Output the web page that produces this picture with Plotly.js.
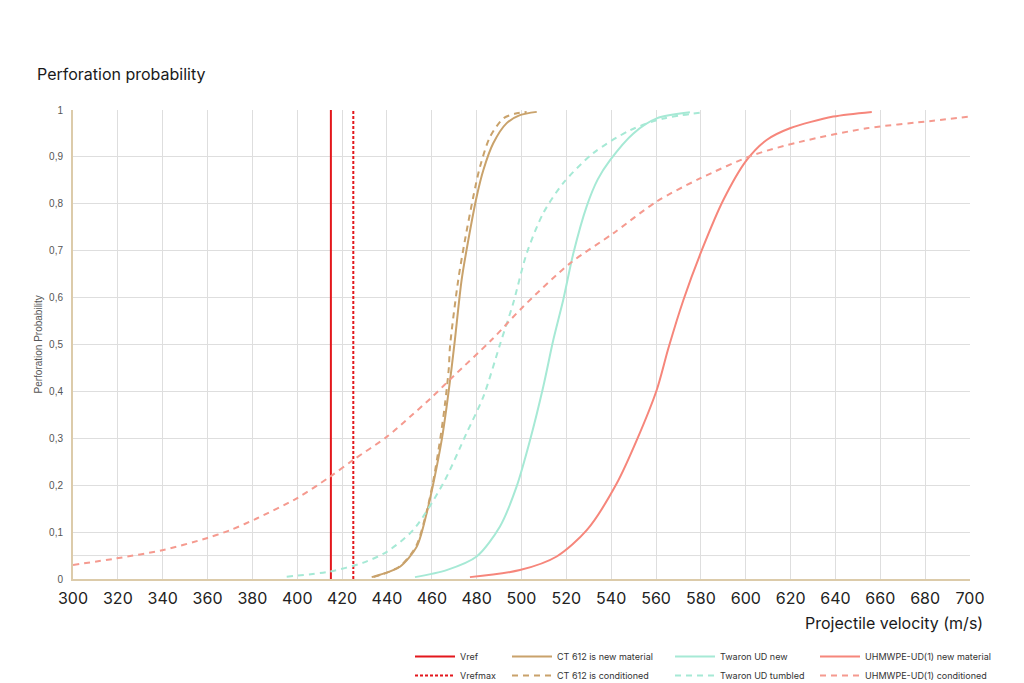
<!DOCTYPE html>
<html>
<head>
<meta charset="utf-8">
<script src="https://cdn.plot.ly/plotly-3.0.1.min.js"></script>
<style>
  html, body { margin: 0; padding: 0; background: #fff; }
  #chart { width: 1024px; height: 683px; }
</style>
</head>
<body>
<div id="chart"></div>
<script>
// reference velocities (m/s)
const vref = 415;
const vrefmax = 425;

// CT 612 is new material
const ctNewV = [433.2, 436.9, 445.8, 453.3, 457.7, 460.7, 464.4, 466.6, 468.9, 470.3, 473.3, 476.3, 480.0, 483.0, 487.4, 493.4, 499.3, 506.8];
const ctNewP = [0.004, 0.009, 0.026, 0.069, 0.14, 0.204, 0.296, 0.367, 0.453, 0.51, 0.638, 0.723, 0.815, 0.872, 0.929, 0.972, 0.989, 0.996];

// CT 612 is conditioned
const ctCondV = [434, 438, 446, 453, 457.5, 460.5, 463.8, 465.8, 467.6, 468.1, 471.8, 474.8, 478.5, 481.5, 486, 491.9, 497, 502.3];
const ctCondP = [0.004, 0.01, 0.028, 0.07, 0.14, 0.205, 0.3, 0.37, 0.45, 0.495, 0.638, 0.723, 0.815, 0.879, 0.943, 0.982, 0.992, 0.996];

// Twaron UD new
const twNewV = [452.5, 466.6, 480, 490.4, 497.8, 503.8, 509.7, 514.2, 518.6, 523.1, 529.1, 534, 539.5, 549.9, 560.3, 575.1];
const twNewP = [0.004, 0.019, 0.048, 0.112, 0.197, 0.296, 0.41, 0.51, 0.595, 0.694, 0.795, 0.852, 0.893, 0.95, 0.982, 0.995];

// Twaron UD tumbled
const twTumbV = [395.3, 414.6, 429.5, 439.9, 451.8, 465.1, 475.5, 483, 490.4, 496.3, 502.3, 509.7, 518.6, 532, 548.5, 563.3, 581];
const twTumbP = [0.005, 0.016, 0.035, 0.058, 0.105, 0.204, 0.311, 0.389, 0.5, 0.588, 0.694, 0.78, 0.844, 0.908, 0.957, 0.982, 0.995];

// UHMWPE-UD(1) new material
const uhNewV = [477, 499.3, 515.7, 529.1, 542.5, 551.4, 560.3, 565.5, 572.2, 580.4, 590, 600.4, 609.3, 619.7, 639, 656.2];
const uhNewP = [0.004, 0.019, 0.048, 0.104, 0.204, 0.296, 0.403, 0.492, 0.595, 0.701, 0.808, 0.893, 0.936, 0.961, 0.986, 0.996];

// UHMWPE-UD(1) conditioned
const uhCondV = [300, 319.5, 340.3, 359.6, 370, 381.9, 399.8, 414.6, 425, 439.9, 450.3, 459.2, 470, 486.7, 500.8, 521.6, 540.9, 560.3, 579.6, 603.4, 624.2, 653.9, 683.6, 700];
const uhCondP = [0.03, 0.044, 0.062, 0.087, 0.104, 0.129, 0.172, 0.218, 0.254, 0.303, 0.346, 0.384, 0.434, 0.51, 0.581, 0.673, 0.737, 0.805, 0.854, 0.904, 0.932, 0.961, 0.977, 0.986];

const xTicks = [300, 320, 340, 360, 380, 400, 420, 440, 460, 480, 500, 520, 540, 560, 580, 600, 620, 640, 660, 680, 700];

const RED = '#e3171c';
const TAN = '#c9a26b';
const MINT = '#a6e9d5';
const SALMON = '#f6867b';
const SALMON_D = '#f59a8f';

const curve = (x, y, name, color, dash, legend) => ({
  x: x, y: y, name: name, type: 'scatter', mode: 'lines',
  line: { color: color, width: 2, dash: dash, shape: 'spline', smoothing: 0.8 },
  legend: legend, legendgroup: name, hoverinfo: 'skip'
});

const traces = [
  { x: [vref, vref], y: [0, 1], name: 'Vref', type: 'scatter', mode: 'lines',
    line: { color: RED, width: 2 }, legend: 'legend', legendgroup: 'Vref' },
  { x: [vrefmax, vrefmax], y: [0, 1], name: 'Vrefmax', type: 'scatter', mode: 'lines',
    line: { color: RED, width: 2, dash: '3px,2px' }, legend: 'legend', legendgroup: 'Vrefmax' },
  curve(ctNewV, ctNewP, 'CT 612 is new material', TAN, 'solid', 'legend2'),
  curve(ctCondV, ctCondP, 'CT 612 is conditioned', TAN, '6px,5px', 'legend2'),
  curve(twNewV, twNewP, 'Twaron UD new', MINT, 'solid', 'legend3'),
  curve(twTumbV, twTumbP, 'Twaron UD tumbled', MINT, '6px,5px', 'legend3'),
  curve(uhNewV, uhNewP, 'UHMWPE-UD(1) new material', SALMON, 'solid', 'legend4'),
  curve(uhCondV, uhCondP, 'UHMWPE-UD(1) conditioned', SALMON_D, '6px,5px', 'legend4')
];

const legendBase = (x) => ({
  x: x, xanchor: 'left', xref: 'container',
  y: 1 - 642 / 683, yanchor: 'top', yref: 'container',
  orientation: 'v', bgcolor: 'rgba(0,0,0,0)', tracegroupgap: 0,
  itemwidth: 40,
  font: { family: 'Inter, sans-serif', size: 9, color: '#333' }
});

const layout = {
  width: 1024,
  height: 683,
  margin: { l: 73, r: 54, t: 110, b: 104, autoexpand: false },
  paper_bgcolor: '#ffffff',
  plot_bgcolor: '#ffffff',
  separators: ', ',
  font: { family: 'Inter, sans-serif', color: '#222' },
  title: {
    text: 'Perforation probability',
    x: 37 / 1024, xanchor: 'left', xref: 'container',
    y: 1 - 74 / 683, yanchor: 'middle', yref: 'container',
    font: { family: 'Inter, sans-serif', size: 16, color: '#1a1a1a' }
  },
  xaxis: {
    range: [300, 700],
    tickvals: xTicks,
    showgrid: true, gridcolor: '#dedede', gridwidth: 1,
    zeroline: false,
    showline: true, linecolor: '#dccbaa', linewidth: 2,
    ticks: '', ticklabelstandoff: 4,
    tickfont: { family: 'Inter, sans-serif', size: 16, color: '#222' },
    fixedrange: true
  },
  yaxis: {
    range: [0, 1],
    dtick: 0.1, tick0: 0,
    showgrid: true, gridcolor: '#dedede', gridwidth: 1,
    zeroline: false,
    showline: true, linecolor: '#dccbaa', linewidth: 2,
    ticks: '', ticklabelstandoff: 6,
    tickfont: { family: 'Liberation Sans, sans-serif', size: 10, color: '#555' },
    fixedrange: true
  },
  shapes: [
    { type: 'line', xref: 'paper', yref: 'y', x0: 0, x1: 1, y0: 0.05, y1: 0.05,
      line: { color: '#dedede', width: 1 }, layer: 'below' }
  ],
  annotations: [
    { text: 'Projectile velocity (m/s)', xref: 'paper', yref: 'paper',
      x: 1.0167, xanchor: 'right', y: -0.094, yanchor: 'middle', showarrow: false,
      font: { family: 'Inter, sans-serif', size: 16, color: '#1a1a1a' } },
    { text: 'Perforation Probability', xref: 'paper', yref: 'paper',
      x: -0.039, xanchor: 'center', y: 0.5, yanchor: 'middle', textangle: -90,
      showarrow: false,
      font: { family: 'Liberation Sans, sans-serif', size: 10, color: '#555' } }
  ],
  showlegend: true,
  legend: legendBase(410 / 1024),
  legend2: legendBase(507 / 1024),
  legend3: legendBase(670 / 1024),
  legend4: legendBase(815 / 1024)
};

Plotly.newPlot('chart', traces, layout, { displayModeBar: false, staticPlot: true });
</script>
</body>
</html>
